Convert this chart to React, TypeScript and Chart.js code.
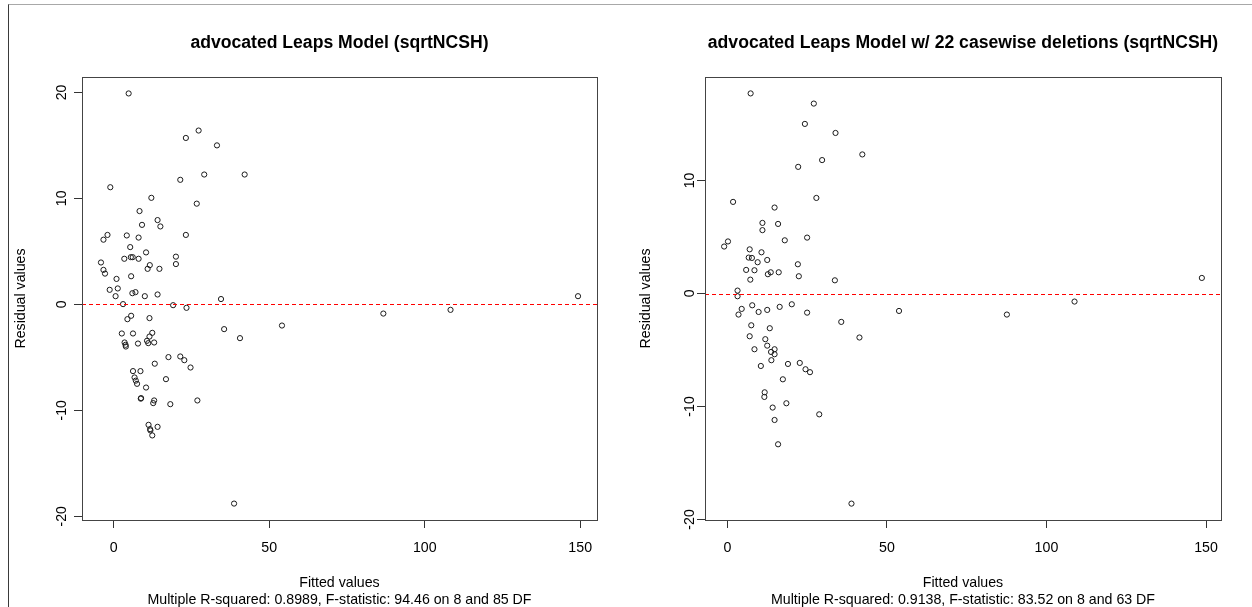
import React, { useEffect, useRef } from 'react';
import { Chart, registerables } from 'chart.js';

Chart.register(...registerables);

const FONT = '"Liberation Sans", Arial, Helvetica, sans-serif';

// ---------- data: left panel (full model) ----------
const leftFitted = [
  4.8, 27.3, 23.2, 33.2, 29.1, 42.1, 21.4, -1.1, 12.1, 26.7,
  8.3, 14.1, 9.1, 15.0, -2.0, -3.3, 4.2, 8.0, 23.2, 5.3,
  10.4, 3.4, 5.5, 6.1, 8.0, 20.0, 20.0, 11.6, 10.9, 14.7,
  -4.1, -3.3, -2.8, 0.9, 5.6, -1.3, 1.3, 0.6, 6.0, 7.0,
  10.0, 14.1, 34.5, 3.0, 19.1, 23.4, 5.6, 4.4, 11.5, 35.5,
  40.6, 2.6, 6.2, 12.4, 11.5, 10.7, 13.0, 11.1, 3.5, 3.8,
  3.9, 7.8, 17.6, 21.4, 22.7, 24.7, 13.2, 6.2, 8.6, 6.7,
  7.1, 7.5, 16.8, 10.4, 8.7, 8.8, 13.0, 12.7, 18.2, 26.9,
  11.2, 14.1, 11.7, 11.8, 12.4, 38.7, 54.1, 86.7, 108.3, 149.3,
];
const leftResid = [
  19.9, 16.4, 15.7, 15.0, 12.25, 12.25, 11.75, 11.05, 10.05, 9.5,
  8.8, 7.95, 7.5, 7.35, 6.55, 6.1, 6.5, 6.3, 6.55, 5.4,
  4.9, 4.3, 4.45, 4.45, 4.3, 4.5, 3.8, 3.7, 3.35, 3.35,
  3.95, 3.25, 2.9, 2.4, 2.65, 1.37, 1.5, 0.77, 1.05, 1.15,
  0.77, 0.93, 0.5, 0.02, -0.08, -0.33, -1.08, -1.4, -1.3, -2.34,
  -3.19, -2.75, -2.75, -2.69, -3.04, -3.44, -3.6, -3.66, -3.6, -3.82,
  -3.98, -3.7, -4.98, -4.92, -5.27, -5.96, -5.6, -6.3, -6.3, -6.9,
  -7.2, -7.5, -7.06, -7.85, -8.9, -8.85, -9.07, -9.32, -9.42, -9.07,
  -11.37, -11.56, -11.78, -11.9, -12.37, -18.8, -2.0, -0.87, -0.52, 0.77,
];

// ---------- data: right panel (22 casewise deletions) ----------
const rightFitted = [
  7.3, 27.1, 24.3, 33.9, 42.3, 29.7, 22.2, 1.8, 27.9, 14.8,
  11.0, 15.9, 11.0, 18.0, 25.0, 0.2, -1.0, 7.0, 10.7, 6.7,
  7.7, 9.5, 12.5, 22.1, 5.9, 8.5, 13.6, 12.7, 16.1, 22.4,
  7.2, 33.7, 3.2, 3.2, 4.5, 3.5, 7.8, 9.8, 12.5, 16.4,
  20.2, 25.0, 35.7, 41.4, 7.5, 13.3, 7.0, 11.9, 12.5, 8.5,
  14.8, 13.7, 14.8, 13.8, 19.0, 22.7, 24.5, 25.9, 10.5, 17.4,
  11.7, 11.6, 18.5, 14.2, 28.8, 14.8, 15.9, 38.9, 53.8, 87.6,
  108.8, 148.7,
];
const rightResid = [
  17.7, 16.8, 15.0, 14.2, 12.3, 11.8, 11.2, 8.1, 8.45, 7.6,
  6.24, 6.15, 5.6, 4.7, 4.94, 4.6, 4.15, 3.9, 3.64, 3.17,
  3.14, 2.76, 2.96, 2.58, 2.08, 2.05, 1.87, 1.7, 1.87, 1.52,
  1.22, 1.16, 0.25, -0.25, -1.37, -1.87, -1.05, -1.64, -1.46, -1.19,
  -0.96, -1.7, -2.52, -3.9, -2.82, -3.08, -3.79, -4.05, -4.62, -4.94,
  -4.94, -5.18, -5.38, -5.91, -6.24, -6.15, -6.71, -6.97, -6.42, -7.6,
  -8.75, -9.16, -9.72, -10.1, -10.7, -11.2, -13.35, -18.6, -1.55, -1.87,
  -0.72, 1.37,
];

// ---------- axes ----------
const xTicks = [0, 50, 100, 150];
const leftYTicks = [-20, -10, 0, 10, 20];
const rightYTicks = [-20, -10, 0, 10];
const leftXRange = [-10.2, 155.4];
const leftYRange = [-20.35, 21.45];
const rightXRange = [-7.0, 154.7];
const rightYRange = [-20.05, 19.15];

// ---------- text ----------
const xLabel = 'Fitted values';
const yLabel = 'Residual values';
const leftTitle = 'advocated Leaps Model (sqrtNCSH)';
const rightTitle = 'advocated Leaps Model w/ 22 casewise deletions (sqrtNCSH)';
const leftSub = 'Multiple R-squared: 0.8989, F-statistic: 94.46 on 8 and 85 DF';
const rightSub = 'Multiple R-squared: 0.9138, F-statistic: 83.52 on 8 and 63 DF';

const CANVAS_W = 626;
const CANVAS_H = 607;

const rPlotPlugin = {
  id: 'rplot',
  afterDatasetsDraw(chart: any) {
    const { ctx, chartArea: a, scales } = chart;
    // snap the abline to an even pixel row so the thin red stroke keeps its colour
    const y0 = Math.round(scales.y.getPixelForValue(0) / 2) * 2 + 0.5;
    ctx.save();
    ctx.beginPath();
    ctx.rect(a.left, a.top, a.right - a.left, a.bottom - a.top);
    ctx.clip();
    ctx.strokeStyle = 'rgb(255,0,0)';
    ctx.lineWidth = 1;
    ctx.setLineDash([4, 3]);
    ctx.beginPath();
    ctx.moveTo(a.left, y0);
    ctx.lineTo(a.right, y0);
    ctx.stroke();
    ctx.restore();

    ctx.save();
    ctx.strokeStyle = '#444444';
    ctx.lineWidth = 1;
    ctx.strokeRect(
      Math.round(a.left) + 0.5,
      Math.round(a.top) + 0.5,
      Math.round(a.right - a.left),
      Math.round(a.bottom - a.top)
    );
    ctx.restore();
  },
};

interface Panel {
  fitted: number[];
  resid: number[];
  xRange: number[];
  yRange: number[];
  yTicks: number[];
  title: string;
  sub: string;
  areaLeft: number;
  areaRight: number;
  yTickPad: number;
  yTitlePad: number;
}

function makeConfig(p: Panel): any {
  const points = p.fitted.map((x, i) => ({ x, y: p.resid[i] }));
  const tickFont = { family: FONT, size: 14.2, lineHeight: 1.2 };
  const gridOpts = {
    display: true,
    drawOnChartArea: false,
    drawTicks: true,
    tickLength: 8,
    color: '#333333',
    tickColor: '#333333',
    lineWidth: 1,
  };
  return {
    type: 'scatter',
    data: {
      datasets: [
        {
          data: points,
          pointStyle: 'circle',
          pointRadius: 2.6,
          pointHoverRadius: 2.6,
          pointBorderWidth: 1,
          borderColor: '#1a1a1a',
          backgroundColor: 'rgba(0,0,0,0)',
        },
      ],
    },
    options: {
      animation: false,
      responsive: false,
      events: [],
      layout: { padding: { left: 0, right: CANVAS_W - p.areaRight, top: 0, bottom: 0 } },
      plugins: {
        legend: { display: false },
        tooltip: { enabled: false },
        title: {
          display: true,
          text: p.title,
          fullSize: false,
          color: '#000000',
          font: { family: FONT, size: 17.6, weight: 'bold', lineHeight: 1.2 },
          padding: { top: 33, bottom: 22.9 },
        },
      },
      scales: {
        x: {
          type: 'linear',
          position: 'bottom',
          min: p.xRange[0],
          max: p.xRange[1],
          afterBuildTicks: (s: any) => {
            s.ticks = xTicks.map((value) => ({ value }));
          },
          afterFit: (s: any) => {
            s.height = CANVAS_H - 520;
          },
          grid: gridOpts,
          border: { display: false },
          ticks: {
            font: tickFont,
            color: '#000000',
            padding: 12,
            maxRotation: 0,
            minRotation: 0,
            autoSkip: false,
          },
          title: {
            display: true,
            text: [xLabel, p.sub],
            color: '#000000',
            font: { family: FONT, size: 14.2, lineHeight: 1.2 },
            padding: { top: 0, bottom: -2 },
          },
        },
        y: {
          type: 'linear',
          position: 'left',
          min: p.yRange[0],
          max: p.yRange[1],
          afterBuildTicks: (s: any) => {
            s.ticks = p.yTicks.map((value) => ({ value }));
          },
          afterFit: (s: any) => {
            s.width = p.areaLeft;
          },
          grid: gridOpts,
          border: { display: false },
          ticks: {
            font: tickFont,
            color: '#000000',
            padding: p.yTickPad,
            minRotation: 90,
            maxRotation: 90,
            crossAlign: 'center',
            autoSkip: false,
          },
          title: {
            display: true,
            text: yLabel,
            color: '#000000',
            font: { family: FONT, size: 14.2, lineHeight: 1.2 },
            padding: { top: p.yTitlePad, bottom: 0 },
          },
        },
      },
    },
    plugins: [rPlotPlugin],
  };
}

export default function App() {
  const leftRef = useRef<HTMLCanvasElement>(null);
  const rightRef = useRef<HTMLCanvasElement>(null);

  useEffect(() => {
    const charts: Chart[] = [];
    if (leftRef.current) {
      charts.push(
        new Chart(
          leftRef.current,
          makeConfig({
            fitted: leftFitted,
            resid: leftResid,
            xRange: leftXRange,
            yRange: leftYRange,
            yTicks: leftYTicks,
            title: leftTitle,
            sub: leftSub,
            areaLeft: 82,
            areaRight: 597,
            yTickPad: 1.5,
            yTitlePad: 13,
          })
        )
      );
    }
    if (rightRef.current) {
      charts.push(
        new Chart(
          rightRef.current,
          makeConfig({
            fitted: rightFitted,
            resid: rightResid,
            xRange: rightXRange,
            yRange: rightYRange,
            yTicks: rightYTicks,
            title: rightTitle,
            sub: rightSub,
            areaLeft: 79,
            areaRight: 595,
            yTickPad: -3.5,
            yTitlePad: 12,
          })
        )
      );
    }
    return () => {
      charts.forEach((c) => c.destroy());
    };
  }, []);

  return (
    <div
      style={{
        position: 'fixed',
        left: 0,
        top: 0,
        width: 1252,
        height: 607,
        background: '#ffffff',
        overflow: 'hidden',
      }}
    >
      <div
        style={{
          position: 'absolute',
          left: 8,
          top: 4,
          right: -2,
          bottom: -2,
          borderTop: '1px solid #a8a8a8',
          borderLeft: '1px solid #3a3a3a',
        }}
      />
      <div style={{ position: 'absolute', left: 0, top: 0, width: CANVAS_W, height: CANVAS_H }}>
        <canvas ref={leftRef} width={CANVAS_W} height={CANVAS_H} style={{ display: 'block' }} />
      </div>
      <div style={{ position: 'absolute', left: CANVAS_W, top: 0, width: CANVAS_W, height: CANVAS_H }}>
        <canvas ref={rightRef} width={CANVAS_W} height={CANVAS_H} style={{ display: 'block' }} />
      </div>
    </div>
  );
}
